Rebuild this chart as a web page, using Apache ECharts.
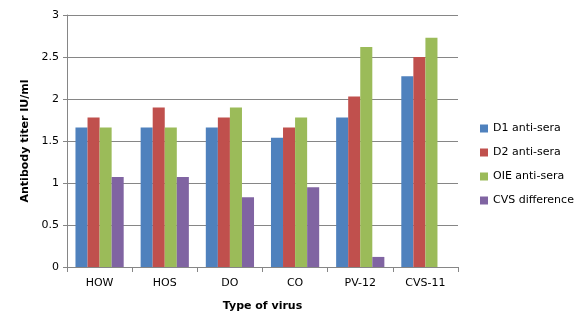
<!DOCTYPE html>
<html>
<head>
<meta charset="utf-8">
<script src="https://cdn.jsdelivr.net/npm/echarts@6/dist/echarts.min.js"></script>
<style>
  html, body { margin: 0; padding: 0; background: #fff; }
  #chart { width: 582px; height: 329px; }
</style>
</head>
<body>
<div id="chart"></div>
<script>
const categories = ["HOW", "HOS", "DO", "CO", "PV-12", "CVS-11"];
const d1Sera = [1.66, 1.66, 1.66, 1.54, 1.78, 2.27];
const d2Sera = [1.78, 1.90, 1.78, 1.66, 2.03, 2.50];
const oieSera = [1.66, 1.66, 1.90, 1.78, 2.62, 2.73];
const cvsDiff = [1.07, 1.07, 0.83, 0.95, 0.12, 0];
const yTicks = [0, 0.5, 1, 1.5, 2, 2.5, 3];

const font = "DejaVu Sans";
const chart = echarts.init(document.getElementById("chart"));

const mkSeries = (name, data, color) => ({
  name: name,
  type: "bar",
  data: data,
  barGap: "0%",
  barCategoryGap: "26%",
  itemStyle: { color: color },
});

chart.setOption({
  animation: false,
  textStyle: { fontFamily: font },
  grid: { left: 67, right: 124, top: 15, bottom: 62 },
  legend: {
    orient: "vertical",
    left: 475,
    top: 117,
    itemWidth: 8,
    itemHeight: 8,
    itemGap: 11,
    icon: "rect",
    textStyle: { fontSize: 11, color: "#000", fontFamily: font, lineHeight: 13 },
    data: ["D1 anti-sera", "D2 anti-sera", "OIE anti-sera", "CVS difference"],
  },
  xAxis: {
    type: "category",
    data: categories,
    name: "Type of virus",
    nameLocation: "middle",
    nameGap: 34,
    nameTextStyle: { fontWeight: "bold", fontSize: 11, color: "#000" },
    axisLine: { lineStyle: { color: "#868686" } },
    axisTick: { show: true, length: 5, lineStyle: { color: "#868686" } },
    axisLabel: { color: "#000", fontSize: 11, margin: 11 },
  },
  yAxis: {
    type: "value",
    min: yTicks[0],
    max: yTicks[yTicks.length - 1],
    interval: 0.5,
    name: "Antibody titer IU/ml",
    nameLocation: "middle",
    nameGap: 34,
    nameTextStyle: { fontWeight: "bold", fontSize: 11, color: "#000" },
    axisLine: { show: true, lineStyle: { color: "#868686" } },
    axisTick: { show: true, length: 4, lineStyle: { color: "#868686" } },
    axisLabel: { color: "#000", fontSize: 11, margin: 8 },
    splitLine: { lineStyle: { color: "#868686" } },
  },
  series: [
    mkSeries("D1 anti-sera", d1Sera, "#4F81BD"),
    mkSeries("D2 anti-sera", d2Sera, "#C0504D"),
    mkSeries("OIE anti-sera", oieSera, "#9BBB59"),
    mkSeries("CVS difference", cvsDiff, "#8064A2"),
  ],
});
</script>
</body>
</html>
